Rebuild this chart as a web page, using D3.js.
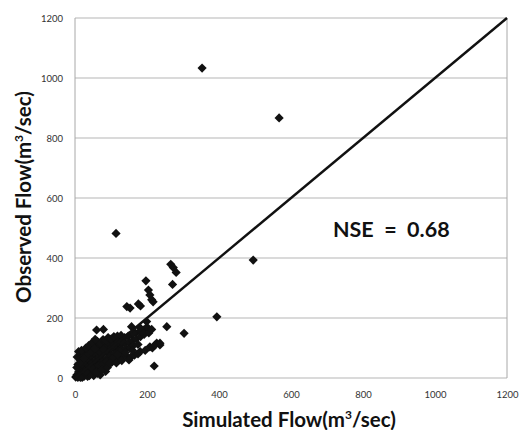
<!DOCTYPE html>
<html>
<head>
<meta charset="utf-8">
<script src="https://cdn.jsdelivr.net/npm/d3@7"></script>
<style>
  body { margin: 0; background: #fff; }
  svg { display: block; }
</style>
</head>
<body>
<script>
// axis ticks
var xTicks = [0, 200, 400, 600, 800, 1000, 1200];
var yTicks = [0, 200, 400, 600, 800, 1000, 1200];

// dense cluster near the origin (simulated, observed)
var clusterPts = [
  [2,3],[5,10],[8,2],[10,20],[12,8],[15,30],[18,14],[20,2],[22,40],[25,22],
  [28,10],[30,50],[32,30],[35,5],[38,60],[40,40],[42,18],[45,72],[48,50],[50,28],
  [52,8],[55,82],[58,60],[60,38],[62,15],[65,92],[68,70],[70,48],[72,25],[75,100],
  [78,80],[80,58],[82,35],[85,108],[88,88],[90,66],[92,45],[95,115],[98,95],[100,75],
  [102,52],[105,120],[108,100],[110,82],[112,60],[115,125],[118,105],[120,88],[122,68],[125,130],
  [128,110],[130,92],[135,75],[138,135],[140,115],[142,98],[148,140],[150,120],[152,100],[158,145],
  [160,125],[162,108],[168,150],[170,130],[175,112],[180,155],[182,138],[190,160],[192,145],[200,170],
  [205,150],[8,45],[15,60],[20,75],[28,85],[40,95],[50,105],[60,110],[35,78],[45,88],
  [5,35],[6,70],[10,88],[14,50],[18,92],[25,65],[30,100],[38,108],[48,118],[55,98],
  [62,122],[70,115],[78,128],[86,125],[92,135],[100,130],[108,138],[118,140],[128,142],[70,85],
  [80,95],[100,100],[110,110],[120,120],[130,122],[65,40],[78,45],[88,55],[105,65],[118,78],
  [40,8],[55,20],[25,5],[15,2],[30,20],[45,35],[70,10],[85,22]
];

// lower branch below the 1:1 line
var lowerPts = [
  [60,20],[75,28],[90,35],[97,49],[115,50],[130,58],[144,71],[155,70],[165,76],[175,80],
  [181,88],[195,92],[208,104],[215,100],[227,116],[236,110],[140,85],[160,92],[150,60]
];

// scattered points and outliers
var outlierPts = [
  [353,1033],[567,867],[114,482],[495,393],[394,204],[266,379],[273,368],[281,352],
  [271,312],[197,324],[204,293],[208,277],[213,261],[217,254],[176,247],[182,240],
  [144,238],[153,233],[255,171],[213,162],[303,149],[185,154],[157,171],[79,162],
  [56,129],[60,160],[161,150],[181,167],[199,188],[220,40],[222,110],[236,116]
];

var allPts = clusterPts.concat(lowerPts, outlierPts);

var width = 521, height = 430;
var plotL = 75, plotR = 507, plotT = 18, plotB = 378;

var svg = d3.select("body").append("svg")
  .attr("width", width)
  .attr("height", height);

var x = d3.scaleLinear().domain([0, 1200]).range([plotL, plotR]);
var y = d3.scaleLinear().domain([0, 1200]).range([plotB, plotT]);

// horizontal gridlines
svg.append("g")
  .selectAll("line")
  .data(yTicks)
  .join("line")
  .attr("x1", plotL)
  .attr("x2", plotR)
  .attr("y1", function(d) { return y(d); })
  .attr("y2", function(d) { return y(d); })
  .attr("stroke", "#b5b5b5")
  .attr("stroke-width", 1);

// plot frame sides
svg.append("line")
  .attr("x1", plotL).attr("x2", plotL)
  .attr("y1", plotT).attr("y2", plotB)
  .attr("stroke", "#a8a8a8");
svg.append("line")
  .attr("x1", plotR).attr("x2", plotR)
  .attr("y1", plotT).attr("y2", plotB)
  .attr("stroke", "#a8a8a8");

// tick labels
var yAxis = svg.append("g")
  .attr("transform", "translate(" + (plotL - 12) + ",0)")
  .call(d3.axisLeft(y).tickValues(yTicks).tickFormat(d3.format("d")).tickSize(0).tickPadding(0));
yAxis.select(".domain").remove();
yAxis.selectAll("text")
  .attr("font-family", "Lato, sans-serif")
  .attr("font-size", 9.5)
  .attr("fill", "#333");

var xAxis = svg.append("g")
  .attr("transform", "translate(0," + (plotB + 13) + ")")
  .call(d3.axisBottom(x).tickValues(xTicks).tickFormat(d3.format("d")).tickSize(0).tickPadding(0));
xAxis.select(".domain").remove();
xAxis.selectAll("text")
  .attr("font-family", "Lato, sans-serif")
  .attr("font-size", 9.5)
  .attr("fill", "#333");

// points as diamonds
var r = 4.6;
svg.append("g")
  .selectAll("path")
  .data(allPts)
  .join("path")
  .attr("d", "M0," + (-r) + "L" + r + ",0L0," + r + "L" + (-r) + ",0Z")
  .attr("transform", function(d) { return "translate(" + x(d[0]) + "," + y(d[1]) + ")"; })
  .attr("fill", "#111");

// 1:1 line
svg.append("line")
  .attr("x1", x(0)).attr("y1", y(0))
  .attr("x2", x(1200)).attr("y2", y(1200))
  .attr("stroke", "#111")
  .attr("stroke-width", 2.4);

// NSE label
svg.append("text")
  .attr("x", 333)
  .attr("y", 237)
  .attr("font-family", "Lato, sans-serif")
  .attr("font-weight", "bold")
  .attr("font-size", 21.5)
  .attr("fill", "#111")
  .style("white-space", "pre")
  .text("NSE  =  0.68");

// axis titles
var xTitle = svg.append("text")
  .attr("x", 289)
  .attr("y", 427)
  .attr("text-anchor", "middle")
  .attr("font-family", "Lato, sans-serif")
  .attr("font-weight", "bold")
  .attr("font-size", 20.5)
  .attr("fill", "#111");
xTitle.append("tspan").text("Simulated Flow(m");
xTitle.append("tspan").attr("font-size", 12).attr("dy", -8).text("3");
xTitle.append("tspan").attr("dy", 8).text("/sec)");

var yTitle = svg.append("text")
  .attr("transform", "translate(31,197) rotate(-90)")
  .attr("text-anchor", "middle")
  .attr("font-family", "Lato, sans-serif")
  .attr("font-weight", "bold")
  .attr("font-size", 20.5)
  .attr("fill", "#111");
yTitle.append("tspan").text("Observed Flow(m");
yTitle.append("tspan").attr("font-size", 12).attr("dy", -8).text("3");
yTitle.append("tspan").attr("dy", 8).text("/sec)");
</script>
</body>
</html>
